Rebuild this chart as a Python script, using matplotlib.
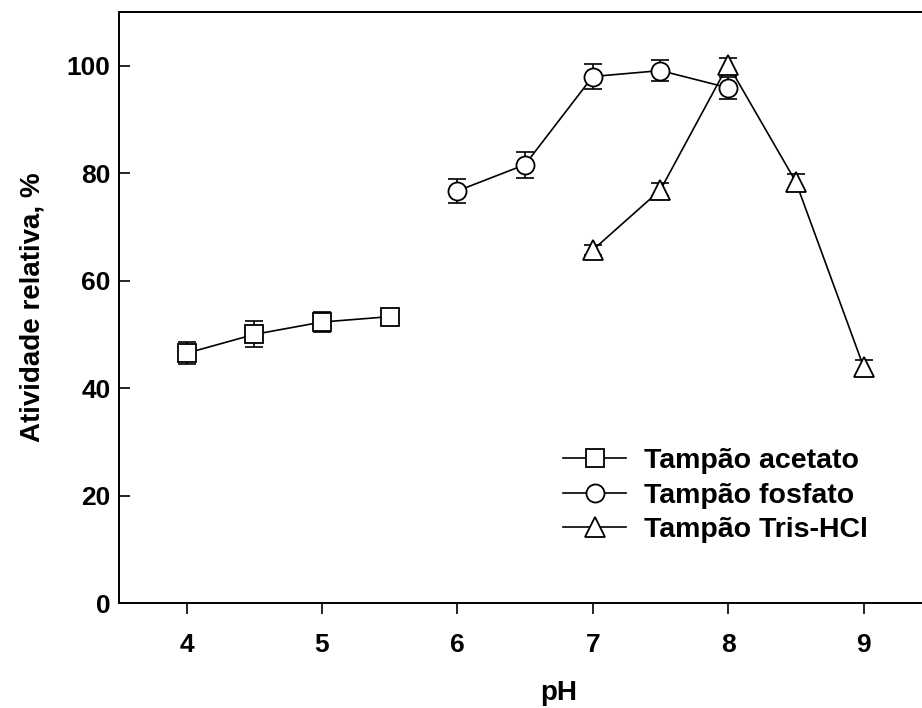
import matplotlib
matplotlib.use("Agg")
import matplotlib.pyplot as plt

plt.rcParams['font.family'] = ['Liberation Sans', 'DejaVu Sans']
plt.rcParams['font.weight'] = 'bold'

# Relative activity (%) versus pH for three buffers
ph_acetato = [4.0, 4.5, 5.0, 5.5]
act_acetato = [46.5, 50.0, 52.3, 53.3]
err_acetato = [2.0, 2.4, 1.8, 0.0]

ph_fosfato = [6.0, 6.5, 7.0, 7.5, 8.0]
act_fosfato = [76.7, 81.6, 98.0, 99.1, 95.9]
err_fosfato = [2.2, 2.4, 2.4, 1.9, 2.0]

ph_tris = [7.0, 7.5, 8.0, 8.5, 9.0]
act_tris = [65.7, 76.9, 100.2, 78.4, 44.0]
err_tris = [1.0, 1.2, 1.2, 1.4, 1.3]

labels = ['Tampão acetato', 'Tampão fosfato', 'Tampão Tris-HCl']
x_ticks = [4, 5, 6, 7, 8, 9]
y_ticks = [0, 20, 40, 60, 80, 100]

fig = plt.figure(figsize=(9.22, 7.08), dpi=100)
ax = fig.add_axes([0.129, 0.1483, 0.9544, 0.8347])

series = [
    (ph_acetato, act_acetato, err_acetato, 's', 12.5),
    (ph_fosfato, act_fosfato, err_fosfato, 'o', 13),
    (ph_tris, act_tris, err_tris, '^', 14),
]
for (x, y, e, m, ms), lab in zip(series, labels):
    ax.errorbar(x, y, yerr=e, fmt='none', ecolor='black', elinewidth=1.2,
                capsize=6.5, capthick=1.2, zorder=2)
    ax.plot(x, y, color='black', lw=1.2, marker=m, markersize=ms,
            markerfacecolor='white', markeredgecolor='black',
            markeredgewidth=1.3, label=lab, zorder=3)

ax.set_xlim(3.5, 10)
ax.set_ylim(0, 110)
ax.set_xticks(x_ticks)
ax.set_yticks(y_ticks)
ax.tick_params(axis='x', direction='out', length=8, width=1.2,
               labelsize=19, pad=13.5)
ax.tick_params(axis='y', direction='in', length=8, width=1.2,
               labelsize=19, pad=6)
for lbl in ax.get_xticklabels() + ax.get_yticklabels():
    lbl.set_fontweight('bold')
for s in ax.spines.values():
    s.set_linewidth(1.4)
ax.spines['right'].set_visible(False)

ax.set_xlabel('pH', fontsize=20, fontweight='bold', labelpad=16.5)
ax.set_ylabel('Atividade relativa, %', fontsize=20, fontweight='bold',
              labelpad=15.5)

leg = ax.legend(loc='upper left', bbox_to_anchor=(0.492, 0.281),
                bbox_transform=ax.transAxes, frameon=False, fontsize=20.5,
                handlelength=2.2, handletextpad=0.63, labelspacing=0.3,
                borderaxespad=0, borderpad=0.4)
for t in leg.get_texts():
    t.set_fontweight('bold')

fig.savefig('out.png', dpi=100)
